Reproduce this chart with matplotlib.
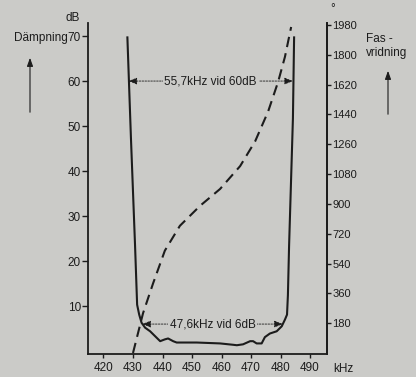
import matplotlib
matplotlib.use("Agg")
import matplotlib.pyplot as plt

plt.rcParams['font.family'] = ['Liberation Sans', 'DejaVu Sans']

# Attenuation of the IF filter (kHz, dB)
freq_att = [428.1, 429.3, 430.7, 431.4, 432.1, 432.9, 434.1, 435.8, 437.5, 439.2,
            440.8, 441.9, 443.6, 444.8, 451.6, 459.5, 463.9, 465.2, 467.3, 469.7,
            470.7, 471.9, 473.6, 474.7, 476.4, 478.7, 480.4, 481.5, 482.2, 482.5,
            482.9, 484.2, 484.6]
att_db = [69.7, 47.4, 23.4, 10.3, 8.1, 6.3, 5.2, 4.4, 3.3, 2.2,
          2.6, 2.8, 2.2, 1.9, 1.9, 1.7, 1.4, 1.3, 1.5, 2.2,
          2.2, 1.7, 1.7, 3.1, 3.9, 4.4, 5.5, 7.0, 8.1, 12.4,
          23.4, 51.7, 69.7]

# Phase shift (kHz, degrees)
freq_phase = [430.0, 431.7, 433.4, 436.8, 440.8, 445.9, 452.7, 459.5, 466.3,
              471.4, 475.8, 479.2, 481.5, 483.6]
phase_deg = [0, 120, 240, 420, 618, 768, 888, 990, 1128, 1278, 1458, 1638,
             1788, 1968]

x_ticks = [420, 430, 440, 450, 460, 470, 480, 490]
db_ticks = [10, 20, 30, 40, 50, 60, 70]
deg_ticks = [180, 360, 540, 720, 900, 1080, 1260, 1440, 1620, 1800, 1980]

# Bandwidth annotations: (width kHz, level dB, centre kHz)
bw60 = (55.7, 60, 456.35)
bw6 = (47.6, 6, 456.95)

bg = '#cbcbc8'
ink = '#1c1c1c'
W, H = 416, 377
fig = plt.figure(figsize=(W / 100, H / 100), dpi=100, facecolor=bg)
ax = fig.add_axes([88 / W, (H - 354) / H, (327 - 88) / W, (354 - 23) / H])
ax.set_facecolor(bg)
ax2 = ax.twinx()

ax.set_xlim(414.75, 495.75)
ax.set_ylim(-0.65, 72.9)
ax2.set_ylim(-6, 1992)

for a in (ax, ax2):
    a.spines['top'].set_visible(False)
    for s in a.spines.values():
        s.set_color(ink)
        s.set_linewidth(1.3)
ax2.spines['left'].set_visible(False)
ax2.spines['bottom'].set_visible(False)

fs = 8.5
ax.set_xticks(x_ticks)
ax.set_xticklabels([str(v) for v in x_ticks], fontsize=fs, color=ink)
ax.tick_params(axis='x', direction='out', length=3, width=1, colors=ink, pad=3)
ax.set_yticks(db_ticks)
ax.set_yticklabels([str(v) for v in db_ticks], fontsize=fs, color=ink)
ax.tick_params(axis='y', direction='out', length=4, width=1, colors=ink, pad=1)
ax2.set_yticks(deg_ticks)
ax2.set_yticklabels([str(v) for v in deg_ticks], fontsize=fs - 0.5, color=ink)
ax2.tick_params(axis='y', direction='out', length=3, width=1, colors=ink, pad=1)

ax.plot(freq_att, att_db, color=ink, lw=1.5, solid_joinstyle='round')
ax2.plot(freq_phase, phase_deg, color=ink, lw=1.5, dashes=(5, 3))


def bw_annot(width, level, centre, label):
    f1, f2 = centre - width / 2, centre + width / 2
    ax.text(centre, level, label, ha='center', va='center', fontsize=fs,
            color=ink, bbox=dict(boxstyle='square,pad=0.15', fc=bg, ec='none'),
            zorder=4)
    for tip in (f1, f2):
        ax.annotate('', xy=(tip, level), xytext=(centre, level),
                    arrowprops=dict(arrowstyle='-|>,head_length=0.5,head_width=0.2',
                                    color=ink, lw=0.6, linestyle=(0, (2, 1.5)),
                                    shrinkA=0, shrinkB=0), zorder=3)


bw_annot(*bw60, '55,7kHz vid 60dB')
bw_annot(*bw6, '47,6kHz vid 6dB')

# Axis titles, unit and direction arrows
fig.text(73 / W, 1 - 18 / H, 'dB', ha='center', va='center', fontsize=fs, color=ink)
fig.text(68 / W, 1 - 38 / H, 'Dämpning', ha='right', va='center', fontsize=fs, color=ink)
fig.text(333 / W, 1 - 9 / H, '°', ha='center', va='center', fontsize=fs, color=ink)
fig.text(366 / W, 1 - 39 / H, 'Fas -', ha='left', va='center', fontsize=fs, color=ink)
fig.text(366 / W, 1 - 53 / H, 'vridning', ha='left', va='center', fontsize=fs, color=ink)
ax.annotate('kHz', xy=(501.2, 0), xycoords=('data', 'axes fraction'),
            xytext=(0, -6.5), textcoords='offset points', ha='center', va='top',
            fontsize=fs, color=ink, annotation_clip=False)

for x0, y_lo, y_hi in ((30, 115, 55), (388, 117, 68)):
    fig.add_artist(plt.Annotation('', xy=(x0 / W, 1 - y_hi / H),
                                  xytext=(x0 / W, 1 - y_lo / H),
                                  xycoords='figure fraction',
                                  arrowprops=dict(arrowstyle='-|>,head_length=0.5,head_width=0.18',
                                                  color=ink, lw=0.8)))

fig.savefig('out.png', dpi=100, facecolor=bg)
